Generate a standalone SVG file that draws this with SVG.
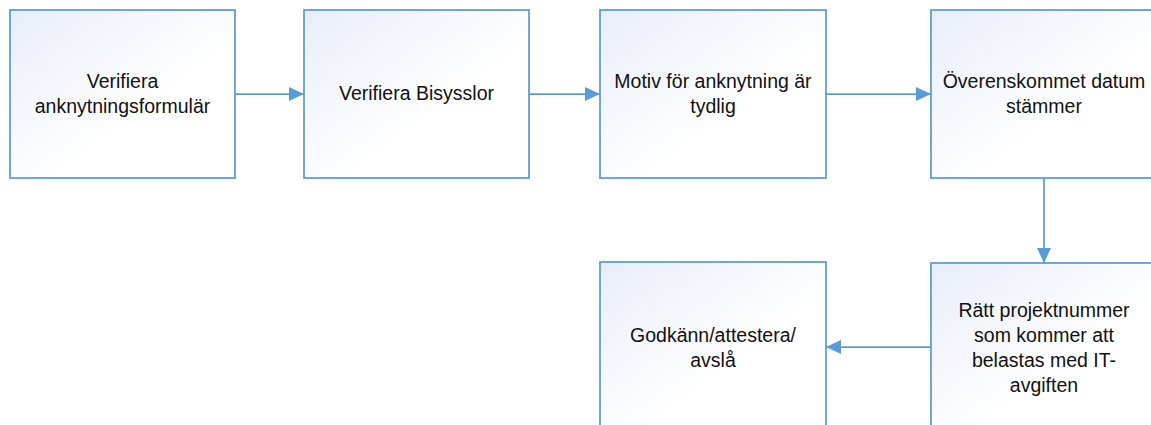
<svg xmlns="http://www.w3.org/2000/svg" width="1151" height="425" viewBox="0 0 1151 425">
<style>
.box{fill:url(#g);stroke:#5b9bd5;stroke-width:1.75}
.t{font-family:"Liberation Sans",Arial,sans-serif;font-size:19.5px;fill:#111;text-anchor:middle}
.c{stroke:#5b9bd5;stroke-width:1.75;fill:none;marker-end:url(#a)}
</style>
<defs>
<linearGradient id="g" x1="0" y1="0" x2="1" y2="1">
<stop offset="0" stop-color="#e8edf8"/>
<stop offset="0.6" stop-color="#ffffff"/>
<stop offset="1" stop-color="#ffffff"/>
</linearGradient>
<marker id="a" markerWidth="16" markerHeight="14" refX="15" refY="7" orient="auto" markerUnits="userSpaceOnUse">
<path d="M0,0 L15,7 L0,14 z" fill="#5b9bd5"/>
</marker>
</defs>
<g id="n1"><rect class="box" x="10" y="10" width="225" height="168"/>
<text class="t" x="122.5" y="88">Verifiera</text><text class="t" x="122.5" y="113">anknytningsformulär</text></g>
<g id="n2"><rect class="box" x="304" y="10" width="225" height="168"/>
<text class="t" x="416.5" y="100">Verifiera Bisysslor</text></g>
<g id="n3"><rect class="box" x="600" y="10" width="226" height="168"/>
<text class="t" x="713" y="88">Motiv för anknytning är</text><text class="t" x="713" y="113">tydlig</text></g>
<g id="n4"><rect class="box" x="931" y="10" width="226" height="168"/>
<text class="t" x="1044" y="88">Överenskommet datum</text><text class="t" x="1044" y="113">stämmer</text></g>
<g id="n5"><rect class="box" x="600" y="262" width="226" height="168"/>
<text class="t" x="713" y="342">Godkänn/attestera/</text><text class="t" x="713" y="367">avslå</text></g>
<g id="n6"><rect class="box" x="931" y="263" width="226" height="168"/>
<text class="t" x="1044" y="317">Rätt projektnummer</text><text class="t" x="1044" y="342">som kommer att</text><text class="t" x="1044" y="367">belastas med IT-</text><text class="t" x="1044" y="392">avgiften</text></g>
<g id="connectors">
<path class="c" d="M235,94 H304"/>
<path class="c" d="M529,94 H600"/>
<path class="c" d="M826,94 H931"/>
<path class="c" d="M1044,178 V263"/>
<path class="c" d="M931,347 H826"/>
</g>
</svg>
